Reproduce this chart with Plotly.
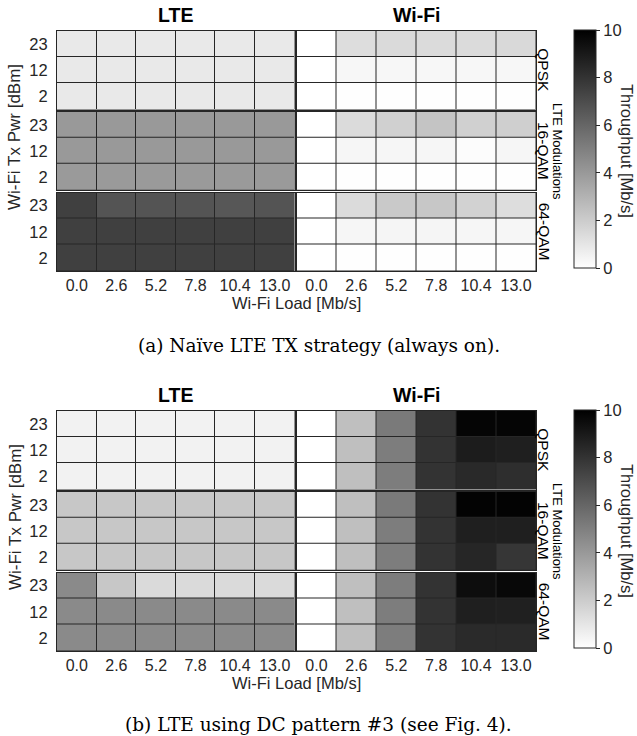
import plotly.graph_objects as go

# ---------------- data ----------------
loads = ["0.0", "2.6", "5.2", "7.8", "10.4", "13.0"]
tx_pwr = ["2", "12", "23"]              # bottom -> top within a group
modulations = ["QPSK", "16-QAM", "64-QAM"]  # top -> bottom groups

# rows per group listed top -> bottom: 23, 12, 2
lte_a_qpsk = [[0.85] * 6, [0.85] * 6, [0.85] * 6]
lte_a_16qam = [[4.0] * 6, [4.0] * 6, [3.95] * 6]
lte_a_64qam = [[7.5, 6.7, 6.7, 6.7, 6.6, 6.7], [7.5] * 6, [7.5] * 6]

wifi_a_qpsk = [[0, 1.35, 1.45, 1.4, 1.4, 1.5],
               [0, 0.3, 0.3, 0.3, 0.3, 0.3],
               [0, 0.02, 0.02, 0.02, 0.02, 0.02]]
wifi_a_16qam = [[0, 1.4, 1.85, 2.3, 1.85, 1.9],
                [0, 0.35, 0.35, 0.35, 0.1, 0.35],
                [0, 0.03, 0.03, 0.03, 0.03, 0.03]]
wifi_a_64qam = [[0, 1.4, 2.1, 2.2, 1.75, 1.35],
                [0, 0.35, 0.4, 0.4, 0.35, 0.35],
                [0, 0.03, 0.03, 0.03, 0.03, 0.03]]

lte_b_qpsk = [[0.5] * 6, [0.5] * 6, [0.5] * 6]
lte_b_16qam = [[2.2] * 6, [2.2] * 6, [2.2] * 6]
lte_b_64qam = [[4.6, 2.2, 1.45, 1.45, 1.45, 1.45], [4.6] * 6, [4.6] * 6]

wifi_b_qpsk = [[0, 2.5, 5.2, 8.0, 9.8, 9.8],
               [0, 2.5, 5.1, 8.0, 8.9, 8.8],
               [0, 2.5, 5.1, 8.0, 8.4, 8.2]]
wifi_b_16qam = [[0, 2.5, 5.2, 8.0, 9.9, 9.9],
                [0, 2.5, 5.1, 8.0, 8.8, 8.8],
                [0, 2.5, 5.1, 8.0, 8.5, 7.9]]
wifi_b_64qam = [[0, 2.5, 5.1, 8.0, 9.5, 9.7],
                [0, 2.5, 5.1, 8.0, 8.8, 8.75],
                [0, 2.5, 5.1, 8.0, 8.35, 8.35]]

panels = [
    {"lte": [lte_a_qpsk, lte_a_16qam, lte_a_64qam],
     "wifi": [wifi_a_qpsk, wifi_a_16qam, wifi_a_64qam],
     "top": 31, "caption": "(a) Naïve LTE TX strategy (always on).", "cap_y": 345},
    {"lte": [lte_b_qpsk, lte_b_16qam, lte_b_64qam],
     "wifi": [wifi_b_qpsk, wifi_b_16qam, wifi_b_64qam],
     "top": 411, "caption": "(b) LTE using DC pattern #3 (see Fig. 4).", "cap_y": 724},
]

# ---------------- layout helpers ----------------
W, H = 637, 736
def fx(p):
    return p / W
def fy(p):
    return 1 - p / H

SANS = "Liberation Sans, Arial, Helvetica, sans-serif"
SERIF = "DejaVu Serif, Liberation Serif, serif"
TXT = "#262626"
colorscale = [[0, "#ffffff"], [1, "#000000"]]

col_x = {"lte": (57, 294.5), "wifi": (296.5, 536)}
group_h = 78.5
group_step = 80.75

fig = go.Figure()
layout = {}
annotations = []
ax_i = 0

for pi, p in enumerate(panels):
    top = p["top"]
    for col in ["lte", "wifi"]:
        for gi in range(3):
            ax_i += 1
            xa = "x" if ax_i == 1 else f"x{ax_i}"
            ya = "y" if ax_i == 1 else f"y{ax_i}"
            xkey = "xaxis" if ax_i == 1 else f"xaxis{ax_i}"
            ykey = "yaxis" if ax_i == 1 else f"yaxis{ax_i}"
            z_top_down = p[col][gi]
            z = list(reversed(z_top_down))  # bottom -> top
            show_cb = (col == "wifi" and gi == 0)
            trace = go.Heatmap(
                z=z, x=loads, y=tx_pwr, xaxis=xa, yaxis=ya,
                colorscale=colorscale, zmin=0, zmax=10,
                xgap=1, ygap=1, showscale=show_cb,
                hoverinfo="skip",
            )
            if show_cb:
                trace.colorbar = dict(
                    x=fx(574), xanchor="left", xref="paper",
                    y=fy(top - 1), yanchor="top", yref="paper",
                    len=238, lenmode="pixels",
                    thickness=22, thicknessmode="pixels",
                    outlinecolor="#262626", outlinewidth=1,
                    tickvals=[0, 2, 4, 6, 8, 10],
                    ticks="outside", ticklen=4, tickcolor="#262626",
                    tickfont=dict(family=SANS, size=16.5, color=TXT),
                    xpad=0, ypad=0,
                )
            fig.add_trace(trace)
            x0, x1 = col_x[col]
            gt = top + gi * group_step
            gb = gt + group_h
            layout[xkey] = dict(
                domain=[fx(x0), fx(x1)], anchor=ya, type="category",
                showline=True, mirror=True, linecolor="#262626", linewidth=1,
                showgrid=False, zeroline=False, fixedrange=True,
                showticklabels=(gi == 2),
                ticks="",
                tickfont=dict(family=SANS, size=16, color=TXT),
            )
            layout[ykey] = dict(
                domain=[fy(gb), fy(gt)], anchor=xa, type="category",
                showline=True, mirror=True, linecolor="#262626", linewidth=1,
                showgrid=False, zeroline=False, fixedrange=True,
                showticklabels=(col == "lte"),
                ticks="outside" if col == "lte" else "", ticklen=5,
                tickcolor="rgba(0,0,0,0)",
                tickfont=dict(family=SANS, size=16.5, color=TXT),
            )
            # modulation labels on the right of Wi-Fi column
            if col == "wifi":
                annotations.append(dict(
                    text=modulations[gi], textangle=90,
                    x=fx(544), y=fy((gt + gb) / 2), xref="paper", yref="paper",
                    xanchor="center", yanchor="middle", showarrow=False,
                    font=dict(family=SANS, size=15.5, color="#000000"),
                ))
    bottom = top + 2 * group_step + group_h
    mid = (top + bottom) / 2
    # titles
    annotations.append(dict(text="<b>LTE</b>", x=fx((57 + 294.5) / 2), y=fy(top - 16),
                            xref="paper", yref="paper", showarrow=False,
                            xanchor="center", yanchor="middle",
                            font=dict(family=SANS, size=19.5, color="#000000")))
    annotations.append(dict(text="<b>Wi-Fi</b>", x=fx((296.5 + 536) / 2), y=fy(top - 16),
                            xref="paper", yref="paper", showarrow=False,
                            xanchor="center", yanchor="middle",
                            font=dict(family=SANS, size=19.5, color="#000000")))
    # axis titles
    annotations.append(dict(text="Wi-Fi Load [Mb/s]", x=fx(296), y=fy(bottom + 32),
                            xref="paper", yref="paper", showarrow=False,
                            xanchor="center", yanchor="middle",
                            font=dict(family=SANS, size=16.5, color=TXT)))
    annotations.append(dict(text="Wi-Fi Tx Pwr [dBm]", textangle=-90, x=fx(15), y=fy(mid - 14),
                            xref="paper", yref="paper", showarrow=False,
                            xanchor="center", yanchor="middle",
                            font=dict(family=SANS, size=17, color=TXT)))
    annotations.append(dict(text="LTE Modulations", textangle=90, x=fx(558), y=fy(mid),
                            xref="paper", yref="paper", showarrow=False,
                            xanchor="center", yanchor="middle",
                            font=dict(family=SANS, size=13, color="#000000")))
    annotations.append(dict(text="Throughput [Mb/s]", textangle=90, x=fx(627), y=fy(mid),
                            xref="paper", yref="paper", showarrow=False,
                            xanchor="center", yanchor="middle",
                            font=dict(family=SANS, size=16.5, color=TXT)))
    annotations.append(dict(text=p["caption"], x=fx(319), y=fy(p["cap_y"]),
                            xref="paper", yref="paper", showarrow=False,
                            xanchor="center", yanchor="middle",
                            font=dict(family=SERIF, size=18.5, color="#000000")))

fig.update_layout(
    width=W, height=H,
    margin=dict(l=0, r=0, t=0, b=0),
    paper_bgcolor="#ffffff", plot_bgcolor="#262626",
    showlegend=False,
    annotations=annotations,
    **layout,
)

fig.write_html("out.html",
               config={"displayModeBar": False},
               post_script="document.body.style.margin='0';document.body.style.padding='0';document.body.style.overflow='hidden';")
